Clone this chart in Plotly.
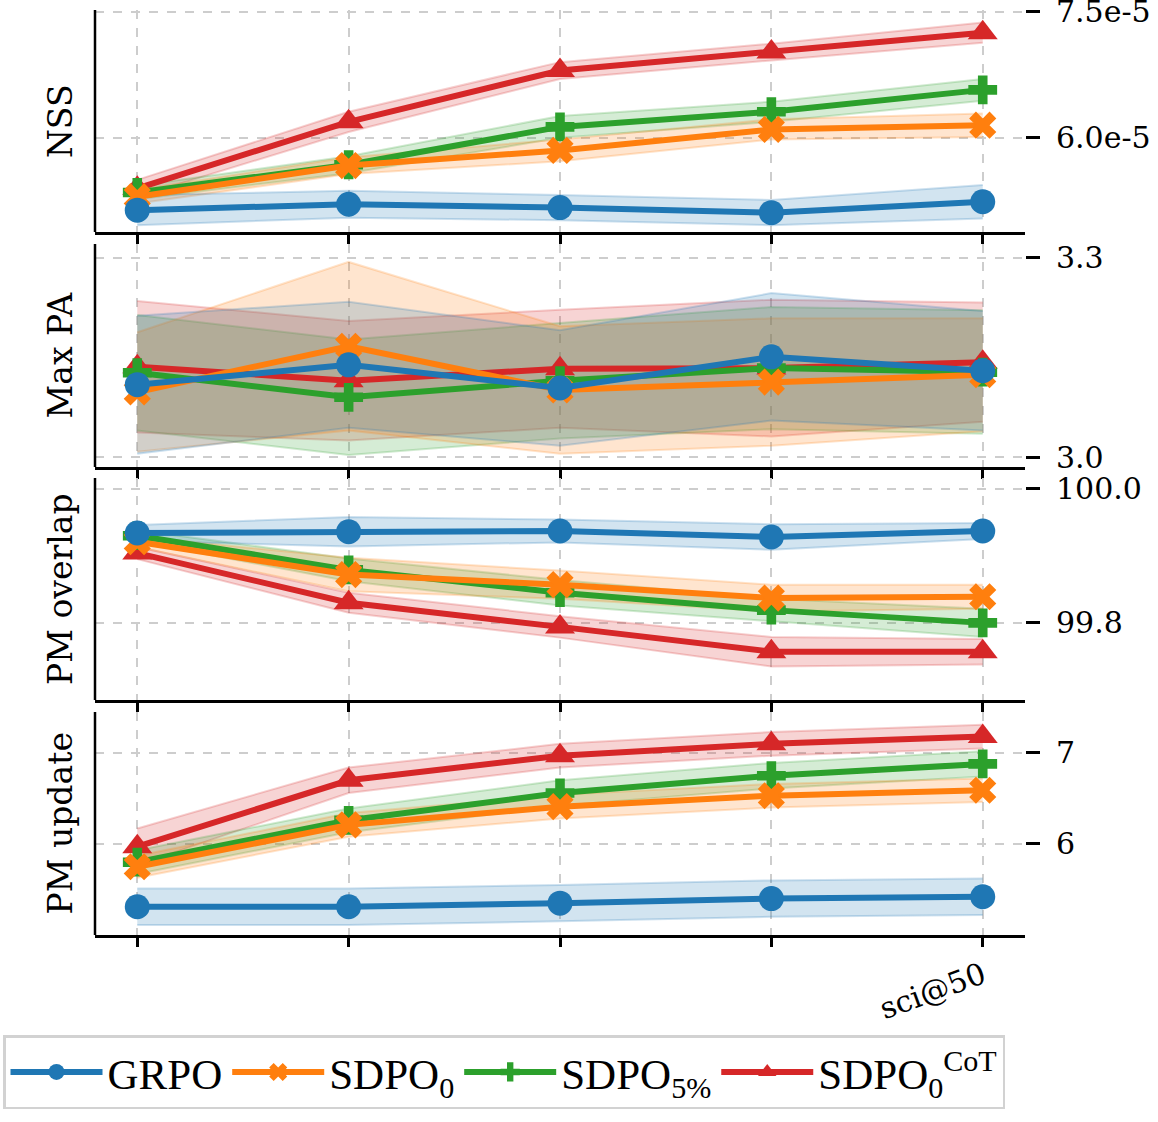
import plotly.graph_objects as go

# ---------------- data ----------------
X_STEPS = [10, 20, 30, 40, 50]
X_TICKTEXT = ["", "", "", "", "sci@50"]

SERIES = ["GRPO", "SDPO0", "SDPO5", "SDPOCoT"]
LEGEND_NAMES = {
    "GRPO": "GRPO",
    "SDPO0": "SDPO<sub>0</sub>",
    "SDPO5": "SDPO<sub>5%</sub>",
    "SDPOCoT": "SDPO<sub>0</sub><sup>CoT</sup>",
}

PANEL_TITLES = ["NSS", "Max PA", "PM overlap", "PM update"]

NSS_MEAN = {
    "GRPO": [5.14e-5, 5.21e-5, 5.17e-5, 5.11e-5, 5.24e-5],
    "SDPO0": [5.30e-5, 5.67e-5, 5.85e-5, 6.10e-5, 6.15e-5],
    "SDPO5": [5.35e-5, 5.68e-5, 6.13e-5, 6.31e-5, 6.57e-5],
    "SDPOCoT": [5.40e-5, 6.19e-5, 6.80e-5, 7.02e-5, 7.25e-5],
}
NSS_STD = {
    "GRPO": [0.18e-5, 0.16e-5, 0.15e-5, 0.15e-5, 0.20e-5],
    "SDPO0": [0.08e-5, 0.10e-5, 0.13e-5, 0.12e-5, 0.14e-5],
    "SDPO5": [0.08e-5, 0.10e-5, 0.13e-5, 0.12e-5, 0.13e-5],
    "SDPOCoT": [0.10e-5, 0.12e-5, 0.10e-5, 0.10e-5, 0.12e-5],
}
NSS_TICKS = [6.0e-5, 7.5e-5]
NSS_TICKTEXT = ["6.0e-5", "7.5e-5"]
NSS_RANGE = [4.88e-5, 7.52e-5]

MAXPA_MEAN = {
    "GRPO": [3.109, 3.139, 3.104, 3.151, 3.130],
    "SDPO0": [3.098, 3.167, 3.101, 3.113, 3.124],
    "SDPO5": [3.127, 3.090, 3.115, 3.134, 3.128],
    "SDPOCoT": [3.136, 3.115, 3.133, 3.134, 3.143],
}
MAXPA_STD = {
    "GRPO": [0.104, 0.095, 0.087, 0.096, 0.090],
    "SDPO0": [0.090, 0.127, 0.096, 0.096, 0.085],
    "SDPO5": [0.087, 0.087, 0.087, 0.092, 0.093],
    "SDPOCoT": [0.099, 0.090, 0.089, 0.103, 0.090],
}
MAXPA_TICKS = [3.0, 3.3]
MAXPA_TICKTEXT = ["3.0", "3.3"]
MAXPA_RANGE = [2.985, 3.321]

OVERLAP_MEAN = {
    "GRPO": [99.934, 99.936, 99.937, 99.928, 99.937],
    "SDPO0": [99.921, 99.872, 99.857, 99.837, 99.839],
    "SDPO5": [99.930, 99.879, 99.845, 99.819, 99.800],
    "SDPOCoT": [99.904, 99.830, 99.794, 99.757, 99.757],
}
OVERLAP_STD = {
    "GRPO": [0.012, 0.022, 0.017, 0.019, 0.012],
    "SDPO0": [0.008, 0.025, 0.021, 0.020, 0.018],
    "SDPO5": [0.008, 0.017, 0.019, 0.017, 0.021],
    "SDPOCoT": [0.009, 0.015, 0.016, 0.022, 0.019],
}
OVERLAP_TICKS = [99.8, 100.0]
OVERLAP_TICKTEXT = ["99.8", "100.0"]
OVERLAP_RANGE = [99.685, 100.016]

UPDATE_MEAN = {
    "GRPO": [5.31, 5.31, 5.35, 5.40, 5.42],
    "SDPO0": [5.75, 6.21, 6.41, 6.53, 6.59],
    "SDPO5": [5.80, 6.26, 6.56, 6.75, 6.88],
    "SDPOCoT": [5.97, 6.70, 6.97, 7.10, 7.18],
}
UPDATE_STD = {
    "GRPO": [0.20, 0.20, 0.20, 0.20, 0.20],
    "SDPO0": [0.12, 0.13, 0.13, 0.13, 0.13],
    "SDPO5": [0.13, 0.13, 0.14, 0.14, 0.14],
    "SDPOCoT": [0.20, 0.14, 0.13, 0.13, 0.13],
}
UPDATE_TICKS = [6, 7]
UPDATE_TICKTEXT = ["6", "7"]
UPDATE_RANGE = [5.0, 7.45]

# ---------------- style ----------------
COLORS = {
    "GRPO": (31, 119, 180),
    "SDPO0": (255, 127, 14),
    "SDPO5": (44, 160, 44),
    "SDPOCoT": (214, 39, 40),
}
SYMBOLS = {"GRPO": "circle", "SDPO0": "x", "SDPO5": "cross", "SDPOCoT": "triangle-up"}
MSIZE = {"GRPO": 25, "SDPO0": 24, "SDPO5": 24, "SDPOCoT": 26}
DRAW_ORDER = ["SDPOCoT", "SDPO5", "SDPO0", "GRPO"]

PANELS = [
    (NSS_MEAN, NSS_STD, NSS_TICKS, NSS_TICKTEXT, NSS_RANGE),
    (MAXPA_MEAN, MAXPA_STD, MAXPA_TICKS, MAXPA_TICKTEXT, MAXPA_RANGE),
    (OVERLAP_MEAN, OVERLAP_STD, OVERLAP_TICKS, OVERLAP_TICKTEXT, OVERLAP_RANGE),
    (UPDATE_MEAN, UPDATE_STD, UPDATE_TICKS, UPDATE_TICKTEXT, UPDATE_RANGE),
]

W, H = 1158, 1122
ML, MR, MT, MB = 95, 133, 10, 187
plot_h = H - MT - MB
plot_w = W - ML - MR
# panel pixel extents (top, bottom) measured from top of figure
PANEL_PX = [(10, 232), (244, 467), (478, 700), (712, 935)]


def rgba(c, a):
    return f"rgba({c[0]},{c[1]},{c[2]},{a})"


fig = go.Figure()
layout = {}
shapes = []
annotations = []

for i, (mean, std, ticks, ticktext, yr) in enumerate(PANELS):
    k = i + 1
    xa = "x" if k == 1 else f"x{k}"
    ya = "y" if k == 1 else f"y{k}"
    # bands first
    for s in DRAW_ORDER:
        c = COLORS[s]
        lo = [m - d for m, d in zip(mean[s], std[s])]
        hi = [m + d for m, d in zip(mean[s], std[s])]
        fig.add_trace(go.Scatter(
            x=X_STEPS, y=lo, mode="lines", xaxis=xa, yaxis=ya,
            line=dict(color=rgba(c, 0.22), width=2),
            showlegend=False, hoverinfo="skip"))
        fig.add_trace(go.Scatter(
            x=X_STEPS, y=hi, mode="lines", xaxis=xa, yaxis=ya,
            line=dict(color=rgba(c, 0.22), width=2),
            fill="tonexty", fillcolor=rgba(c, 0.2),
            showlegend=False, hoverinfo="skip"))
    # lines on top
    for s in DRAW_ORDER:
        c = COLORS[s]
        fig.add_trace(go.Scatter(
            x=X_STEPS, y=mean[s], mode="lines+markers", xaxis=xa, yaxis=ya,
            name=LEGEND_NAMES[s],
            legendrank=SERIES.index(s) + 1,
            showlegend=(k == 1),
            line=dict(color=rgba(c, 1), width=6),
            marker=dict(symbol=SYMBOLS[s], size=MSIZE[s], color=rgba(c, 1),
                        line=dict(width=0))))

    top_px, bot_px = PANEL_PX[i]
    d0 = (H - MB - bot_px) / plot_h
    d1 = (H - MB - top_px) / plot_h
    layout[("xaxis" if k == 1 else f"xaxis{k}")] = dict(
        domain=[0, 1], anchor=ya, range=[8, 52], automargin=False,
        tickmode="array", tickvals=X_STEPS,
        ticktext=X_TICKTEXT if k == 4 else [" "] * 5,
        tickangle=-20, ticks="outside", ticklen=9, tickwidth=2.5, tickcolor="black",
        showline=True, linecolor="black", linewidth=2.5,
        showgrid=True, gridcolor="rgb(205,205,205)", griddash="dash", gridwidth=1.8,
        zeroline=False, ticklabeloverflow="allow",
        tickfont=dict(family="DejaVu Serif", size=30, color="black"),
        matches="x" if k != 1 else None,
    )
    layout[("yaxis" if k == 1 else f"yaxis{k}")] = dict(
        domain=[d0, d1], anchor=xa, side="right", range=yr, automargin=False,
        tickmode="array", tickvals=ticks, ticktext=ticktext,
        ticks="outside", ticklen=14, tickwidth=3, tickcolor="black",
        ticklabelstandoff=10, ticklabeloverflow="allow",
        showline=False, showgrid=True, gridcolor="rgb(205,205,205)",
        griddash="dash", gridwidth=1.8, zeroline=False,
        tickfont=dict(family="DejaVu Serif", size=30, color="black"),
    )
    # left spine
    shapes.append(dict(type="line", xref=f"{xa} domain", yref=f"{ya} domain",
                       x0=0, x1=0, y0=0, y1=1,
                       line=dict(color="black", width=2.5)))
    # y title on the left
    annotations.append(dict(
        text=PANEL_TITLES[i], xref="paper", yref="paper",
        x=-35 / plot_w, y=(d0 + d1) / 2, xanchor="center", yanchor="middle",
        textangle=-90, showarrow=False,
        font=dict(family="DejaVu Serif", size=33, color="black")))

fig.update_layout(**layout)
fig.update_layout(
    width=W, height=H,
    margin=dict(l=ML, r=MR, t=MT, b=MB, autoexpand=False),
    paper_bgcolor="white", plot_bgcolor="white",
    shapes=shapes, annotations=annotations,
    showlegend=True,
    legend=dict(
        orientation="h", x=-92 / plot_w, xanchor="left",
        y=-100 / plot_h, yanchor="top",
        bordercolor="rgb(210,210,210)", borderwidth=2.5, bgcolor="white",
        font=dict(family="Liberation Serif", size=43, color="black"),
        itemwidth=92, traceorder="normal", tracegroupgap=0,
    ),
)

fig.write_html("out.html")
